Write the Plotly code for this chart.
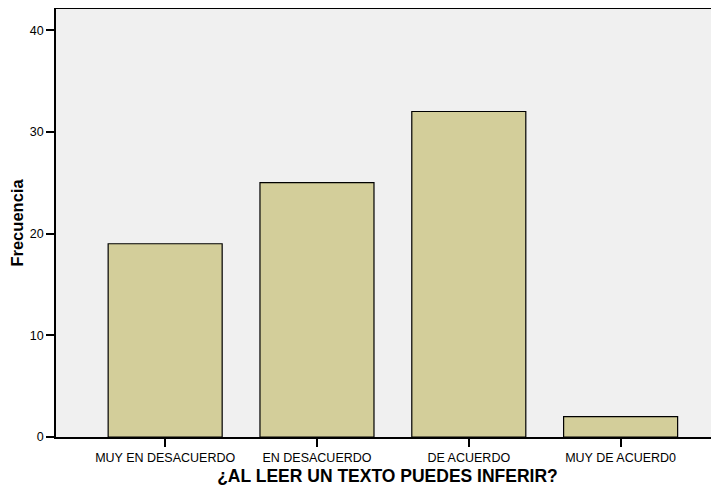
import plotly.graph_objects as go

categories = ["MUY EN DESACUERDO", "EN DESACUERDO", "DE ACUERDO", "MUY DE ACUERD0"]
frecuencia = [19, 25, 32, 2]
y_ticks = [0, 10, 20, 30, 40]

fig = go.Figure()
fig.add_trace(go.Bar(
    x=categories,
    y=frecuencia,
    marker=dict(color="#D3CE9A", line=dict(color="#000000", width=1.2)),
    width=0.751,
))

fig.update_layout(
    width=711,
    height=481,
    margin=dict(l=48, r=0, t=1, b=52),
    paper_bgcolor="white",
    plot_bgcolor="#F0F0F0",
    font=dict(family="Liberation Sans, Arial, sans-serif", color="#000000", size=12.5),
    showlegend=False,
    xaxis=dict(
        type="category",
        range=[-0.719, 3.648],
        showline=True,
        linecolor="#000000",
        linewidth=1.5,
        mirror=True,
        ticks="outside",
        ticklen=8,
        tickwidth=1.5,
        tickcolor="#000000",
        showgrid=False,
        tickfont=dict(size=12.5),
        title=dict(text="<b>¿AL LEER UN TEXTO PUEDES INFERIR?</b>", font=dict(size=17.5), standoff=6),
    ),
    yaxis=dict(
        range=[0, 42.08],
        tickvals=y_ticks,
        showline=True,
        linecolor="#000000",
        linewidth=1.5,
        ticks="outside",
        ticklen=8,
        tickwidth=1.5,
        tickcolor="#000000",
        showgrid=False,
        zeroline=False,
        tickfont=dict(size=12.5),
        title=dict(text="<b>Frecuencia</b>", font=dict(size=16.5), standoff=4),
    ),
)

fig.write_html("out.html")
